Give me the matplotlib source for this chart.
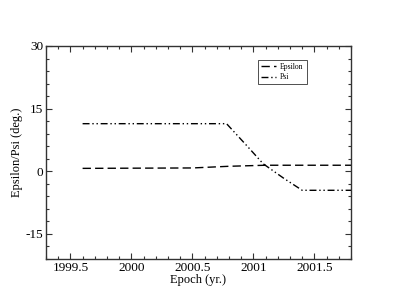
import matplotlib
matplotlib.use("Agg")
import matplotlib.pyplot as plt
from matplotlib.ticker import MultipleLocator

plt.rcParams['font.family'] = ['Liberation Serif', 'DejaVu Serif']

eps_x = [1999.6, 2000.5, 2000.8, 2001.1, 2001.8]
eps_y = [0.7, 0.8, 1.2, 1.45, 1.45]
psi_x = [1999.6, 2000.78, 2000.95, 2001.08, 2001.25, 2001.4, 2001.8]
psi_y = [11.4, 11.4, 6.0, 1.8, -1.7, -4.55, -4.55]

fig = plt.figure(figsize=(3.95, 3.05), dpi=100)
ax = fig.add_axes([46/395, 1-259/305, (351-46)/395, (259-46)/305])

ax.plot(eps_x, eps_y, color='black', lw=1.0, linestyle=(0, (6, 3)), label='Epsilon')
ax.plot(psi_x, psi_y, color='black', lw=1.0, linestyle=(0, (5, 2, 1, 2, 1, 2)), label='Psi')

ax.set_xlim(1999.3, 2001.8)
ax.set_ylim(-21, 30)
ax.xaxis.set_minor_locator(MultipleLocator(0.1))
ax.yaxis.set_minor_locator(MultipleLocator(3))
ax.set_xticks([1999.5, 2000, 2000.5, 2001, 2001.5])
ax.set_xticklabels(['1999.5', '2000', '2000.5', '2001', '2001.5'])
ax.set_yticks([-15, 0, 15, 30])
ax.set_yticklabels(['-15', '0', '15', '30'])
ax.tick_params(which='both', direction='in', top=True, right=True, labelsize=9.5, width=0.8, color='#333333')
ax.tick_params(which='major', length=4, pad=2)
ax.tick_params(which='minor', length=2)
for s in ax.spines.values():
    s.set_linewidth(1.0)
    s.set_color('#333333')

ax.set_xlabel('Epoch (yr.)', fontsize=9, labelpad=0)
ax.set_ylabel('Epsilon/Psi (deg.)', fontsize=9, labelpad=2)

leg = ax.legend(loc='upper left', bbox_to_anchor=((258-46)/305, 1-(60-46)/213), fontsize=5.5,
                frameon=True, fancybox=False, edgecolor='black', handlelength=2.0,
                borderpad=0.4, labelspacing=0.3, handletextpad=0.5, borderaxespad=0)
leg.get_frame().set_linewidth(0.6)

fig.savefig('out.png', dpi=100)
